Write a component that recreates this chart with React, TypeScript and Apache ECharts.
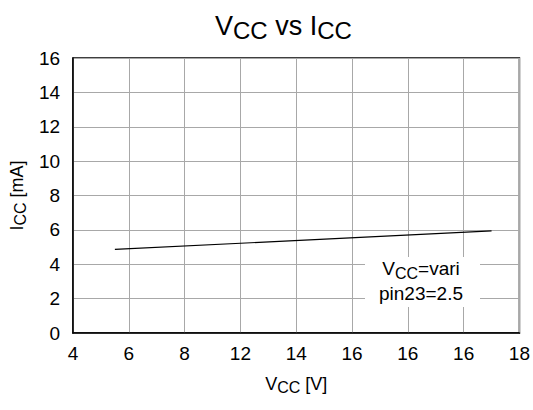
import React, { useEffect, useRef } from "react";
import * as echarts from "echarts";

const xTickLabels = ["4", "6", "8", "12", "14", "16", "16", "16", "18"];
const yTickLabels = ["0", "2", "4", "6", "8", "10", "12", "14", "16"];
const vccValues = [5.5, 19.0];
const iccValues = [4.86, 5.94];
const noteLines = ["=vari", "pin23=2.5"];

const FONT = "'Liberation Sans', Arial, sans-serif";

export default function App() {
  const ref = useRef<HTMLDivElement>(null);
  useEffect(() => {
    if (!ref.current) return;
    const chart = echarts.init(ref.current, undefined, { renderer: "svg" });
    const seriesData = vccValues.map((v, i) => [v, iccValues[i]]);
    const sub = (size: number, lh: number) => ({
      fontSize: size, fontFamily: FONT, color: "#000", fontWeight: "normal", lineHeight: lh, verticalAlign: "bottom",
    });
    const norm = (size: number, lh: number) => ({
      fontSize: size, fontFamily: FONT, color: "#000", fontWeight: "normal", lineHeight: lh,
    });
    chart.setOption({
      animation: false,
      backgroundColor: "#fff",
      textStyle: { fontFamily: FONT, color: "#000" },
      title: {
        text: "{n|V}{s|CC}{n| vs I}{s|CC}",
        left: 210,
        top: 4,
        textStyle: {
          fontWeight: "normal",
          rich: { n: norm(27, 33), s: sub(24, 25) },
        },
      },
      grid: {
        left: 72,
        right: 13,
        top: 58,
        bottom: 77,
        show: true,
        borderColor: "#000",
        borderWidth: 1.5,
        backgroundColor: "transparent",
      },
      xAxis: {
        type: "value",
        min: 4,
        max: 20,
        interval: 2,
        axisLine: { show: true, lineStyle: { color: "#000", width: 1.5 } },
        axisTick: { show: false },
        splitLine: { show: true, lineStyle: { color: "#a8a8a8", width: 1 } },
        axisLabel: {
          fontSize: 19,
          color: "#000",
          fontFamily: FONT,
          margin: 11,
          formatter: (v: number) => xTickLabels[Math.round((v - 4) / 2)] ?? "",
        },
        name: "{n|V}{s|CC}{n| [V]}",
        nameLocation: "middle",
        nameGap: 40,
        nameTextStyle: { rich: { n: norm(18, 22), s: sub(16, 16) } },
      },
      yAxis: {
        type: "value",
        min: 0,
        max: 16,
        interval: 2,
        axisLine: { show: true, lineStyle: { color: "#000", width: 1.5 } },
        axisTick: { show: false },
        splitLine: { show: true, lineStyle: { color: "#a8a8a8", width: 1 } },
        axisLabel: {
          fontSize: 19,
          color: "#000",
          fontFamily: FONT,
          margin: 13,
          formatter: (v: number) => yTickLabels[Math.round(v / 2)] ?? "",
        },
        name: "{n|I}{s|CC}{n| [mA]}",
        nameLocation: "middle",
        nameGap: 41,
        nameTextStyle: { rich: { n: norm(18, 22), s: sub(16, 16) } },
      },
      series: [
        {
          type: "line",
          data: seriesData,
          symbol: "none",
          lineStyle: { color: "#000", width: 1.2 },
        },
      ],
      graphic: [
        {
          type: "rect",
          shape: { x: 365, y: 257, width: 115, height: 50 },
          style: { fill: "#fff" },
          z: 10,
        },
        {
          type: "text",
          x: 421,
          y: 256,
          z: 11,
          style: {
            text: `{n|V}{s|CC}{n|${noteLines[0]}}\n{n|${noteLines[1]}}`,
            align: "center",
            verticalAlign: "top",
            rich: {
              n: { fontSize: 19, fontFamily: FONT, fill: "#000", lineHeight: 25 },
              s: { fontSize: 16, fontFamily: FONT, fill: "#000", lineHeight: 18, verticalAlign: "bottom" },
            },
          },
        },
      ],
    });
    return () => chart.dispose();
  }, []);
  return (
    <div
      ref={ref}
      style={{ position: "absolute", left: 0, top: 0, width: 533, height: 410 }}
    />
  );
}
